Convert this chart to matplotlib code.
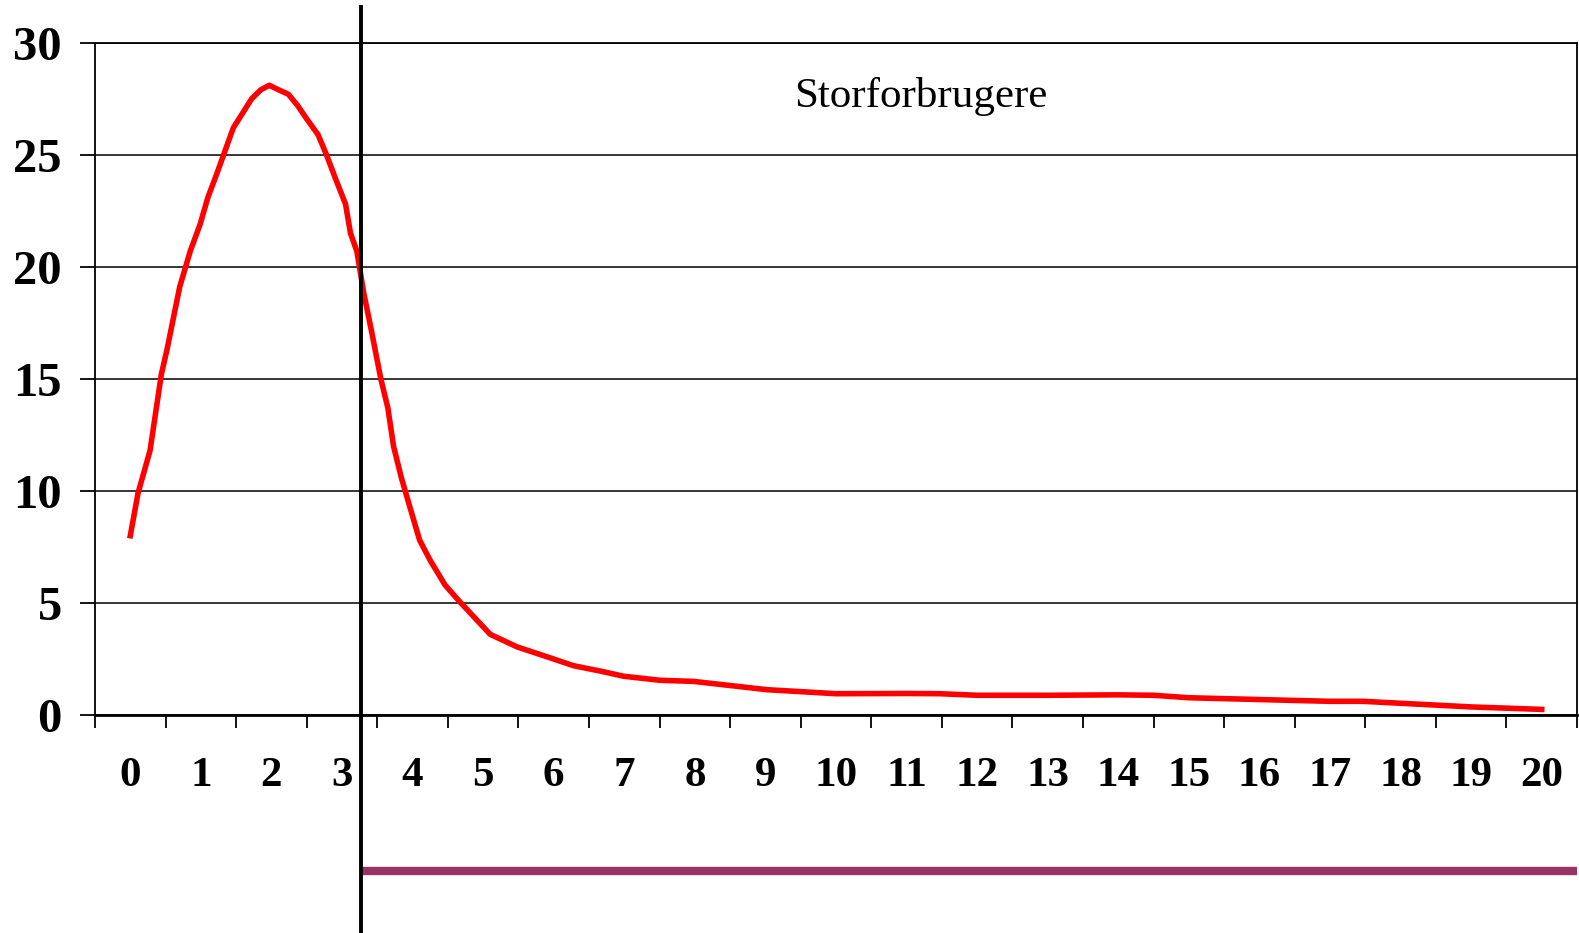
import matplotlib
matplotlib.use("Agg")
import matplotlib.pyplot as plt

# category labels on the x axis
categories = list(range(21))

# red curve (x in category units)
curve_x = [0.0, 0.11, 0.28, 0.44, 0.52, 0.70, 0.85, 0.99, 1.10, 1.22, 1.46,
           1.72, 1.85, 1.97, 2.10, 2.24, 2.37, 2.50, 2.66, 2.78, 2.90, 3.05,
           3.12, 3.21, 3.31, 3.42, 3.55, 3.65, 3.73, 3.84, 3.96, 4.10, 4.25,
           4.46, 4.67, 5.10, 5.48, 5.95, 6.28, 6.66, 6.99, 7.50, 7.98, 9.02,
           10.0, 11.0, 11.47, 12.0, 13.0, 14.0, 14.5, 15.0, 16.0, 17.0,
           17.47, 19.0, 20.0]
curve_y = [8.0, 9.9, 11.8, 15.2, 16.3, 19.1, 20.7, 21.9, 23.1, 24.1, 26.2,
           27.5, 27.9, 28.1, 27.9, 27.7, 27.2, 26.6, 25.9, 25.0, 24.0, 22.8,
           21.5, 20.7, 18.8, 17.1, 15.0, 13.7, 12.0, 10.6, 9.3, 7.8, 6.9,
           5.8, 5.05, 3.6, 3.04, 2.55, 2.2, 1.96, 1.73, 1.55, 1.5, 1.13,
           0.95, 0.96, 0.95, 0.88, 0.88, 0.9, 0.88, 0.77, 0.69, 0.61,
           0.61, 0.36, 0.25]

y_ticks = [0, 5, 10, 15, 20, 25, 30]
divider_x = 3.27
label = "Storforbrugere"

plt.rcParams['font.family'] = ['Liberation Serif', 'DejaVu Serif']

fig = plt.figure(figsize=(15.79, 9.33), dpi=100)
ax = fig.add_axes([95 / 1579, (933 - 715) / 933, (1577 - 95) / 1579, (715 - 42.7) / 933])

# horizontal grid
for v in y_ticks:
    ax.axhline(v, color='black', linewidth=1.1, zorder=1)

ax.plot(curve_x, curve_y, color='#ff0000', linewidth=4.0, zorder=3,
        solid_joinstyle='round')

ax.set_xlim(-0.5, 20.5)
ax.set_ylim(0, 30)

# tick marks between categories, labels centred on categories
ax.set_xticks([i - 0.5 for i in range(22)])
ax.set_xticklabels([])
ax.set_xticks(categories, minor=True)
ax.set_xticklabels([str(c) for c in categories], minor=True,
                   fontsize=31, fontweight='bold')
ax.tick_params(axis='x', which='major', direction='out', length=9.4, width=1.3)
ax.tick_params(axis='x', which='minor', length=0, pad=30)

ax.set_yticks(y_ticks)
ax.set_yticklabels([str(v) for v in y_ticks], fontsize=35, fontweight='bold')
ax.tick_params(axis='y', direction='out', length=10.8, width=1.3, pad=13)

for side in ['left', 'right', 'top']:
    ax.spines[side].set_linewidth(1.3)
ax.spines['bottom'].set_linewidth(2.0)

# vertical divider running past the plot area
ax.plot([divider_x, divider_x], [1.053, -0.324], color='black', linewidth=2.8,
        transform=ax.get_xaxis_transform(), clip_on=False, zorder=4)

# purple bar under the axis, from the divider to the right edge
ax.plot([divider_x, 20.5], [-0.2316, -0.2316], color='#993366', linewidth=6,
        transform=ax.get_xaxis_transform(), clip_on=False, solid_capstyle='butt')

ax.text(0.557, 0.92, label, transform=ax.transAxes, fontsize=31,
        ha='center', va='center')

fig.savefig('out.png', dpi=100)
